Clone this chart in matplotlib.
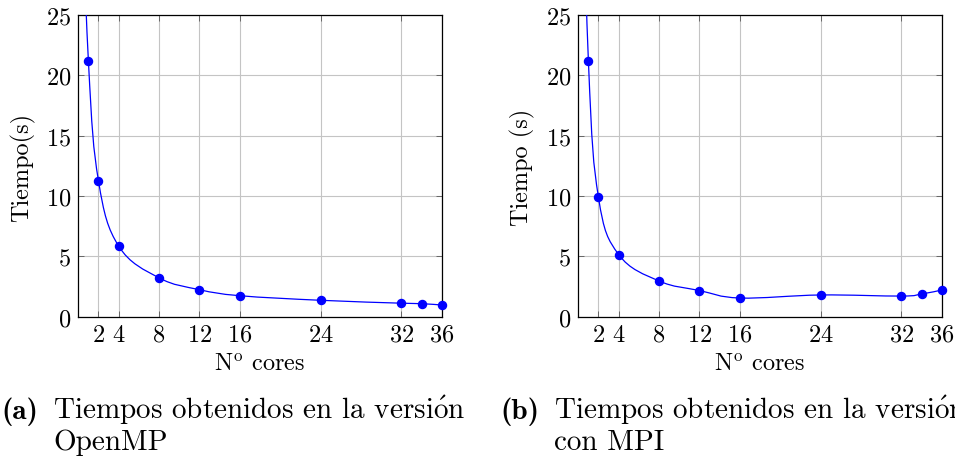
import numpy as np
import matplotlib
matplotlib.use("Agg")
import matplotlib.pyplot as plt
from matplotlib.path import Path
from matplotlib.patches import PathPatch

# ---- data ----
cores = [1, 2, 4, 8, 12, 16, 24, 32, 34, 36]
t_openmp = [21.2, 11.25, 5.85, 3.22, 2.24, 1.74, 1.36, 1.12, 1.08, 0.97]
t_mpi = [21.2, 9.88, 5.15, 2.96, 2.17, 1.55, 1.80, 1.71, 1.88, 2.21]
# leading (off-chart, clipped) point that shapes the smooth curve near x=1
lead_x = 0
lead_openmp = 43
lead_mpi = 50

xticks = [2, 4, 8, 12, 16, 24, 32, 36]
yticks = [0, 5, 10, 15, 20, 25]
ylabels = ["Tiempo(s)", "Tiempo (s)"]
xlabel = r"N$^{\rm o}$ cores"
cap_tags = ["(a)", "(b)"]
cap_line1 = [r"Tiempos obtenidos en la versi$\acute{\rm o}$n",
             r"Tiempos obtenidos en la versi$\acute{\rm o}$n"]
cap_line2 = ["OpenMP", "con MPI"]

plt.rcParams["font.family"] = ["cmr10", "DejaVu Serif"]
plt.rcParams["mathtext.fontset"] = "cm"
plt.rcParams["axes.formatter.use_mathtext"] = True

W, H = 955, 464
fig = plt.figure(figsize=(W / 100, H / 100), dpi=100)

BLUE = (0, 0, 1)
FS = 17.5
CFS = 21


def smooth_path(xs, ys, t=0.183):
    pts = np.column_stack([xs, ys]).astype(float)
    n = len(pts)
    verts = [pts[0]]
    codes = [Path.MOVETO]
    for i in range(n - 1):
        p0 = pts[i - 1] if i > 0 else pts[i]
        p1 = pts[i]
        p2 = pts[i + 1]
        p3 = pts[i + 2] if i + 2 < n else pts[i + 1]
        c1 = p1 + t * (p2 - p0)
        c2 = p2 - t * (p3 - p1)
        verts += [c1, c2, p2]
        codes += [Path.CURVE4] * 3
    return Path(verts, codes)


def px_axes(l, r, top, bottom):
    return fig.add_axes([l / W, (H - bottom) / H, (r - l) / W, (bottom - top) / H])


axes_px = [(78.3, 441.7), (578.3, 941.7)]
series = [t_openmp, t_mpi]
leads = [lead_openmp, lead_mpi]
ylab_x = [23, 522]

for k in range(2):
    l, r = axes_px[k]
    ax = px_axes(l, r, 16, 317.7)
    ax.set_xlim(0, 36)
    ax.set_ylim(0, 25)
    ax.set_xticks(xticks)
    ax.set_yticks(yticks)
    ax.grid(True, color="#c4c4c4", lw=0.8)
    ax.set_axisbelow(True)
    ax.tick_params(direction="in", length=4, width=0.7, color="#666666",
                   top=True, right=True, labelsize=FS, pad=5)
    for s in ax.spines.values():
        s.set_linewidth(0.9)
        s.set_color("black")

    xs = [lead_x] + cores
    ys = [leads[k]] + series[k]
    patch = PathPatch(smooth_path(xs, ys), facecolor="none", edgecolor=BLUE,
                      lw=0.9, zorder=3)
    ax.add_patch(patch)
    patch.set_clip_on(True)
    ax.plot(cores, series[k], "o", color=BLUE, ms=5.8, zorder=4, clip_on=False)

    fig.text((l + r) / 2 / W, (H - 365) / H, xlabel,
             ha="center", va="center", fontsize=FS)
    fig.text(ylab_x[k] / W, (H - 167) / H, ylabels[k], rotation=90,
             ha="center", va="center", fontsize=FS)

# captions
tag_x = [1, 500]
txt_x = [53, 554]
for k in range(2):
    fig.text(tag_x[k] / W, (H - 419) / H, cap_tags[k], family=["cmb10", "DejaVu Serif"],
             fontsize=CFS, ha="left", va="baseline")
    fig.text(txt_x[k] / W, (H - 419) / H, cap_line1[k], fontsize=CFS,
             ha="left", va="baseline")
    fig.text(txt_x[k] / W, (H - 450) / H, cap_line2[k], fontsize=CFS,
             ha="left", va="baseline")

fig.savefig("out.png", dpi=100)
